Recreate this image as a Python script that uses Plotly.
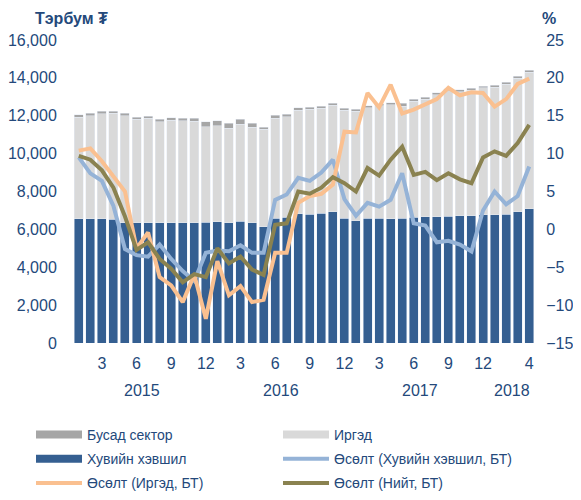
import plotly.graph_objects as go

years = [2015] * 12 + [2016] * 12 + [2017] * 12 + [2018] * 4
month_nums = list(range(1, 13)) * 3 + [1, 2, 3, 4]
months = [f"{y}-{m:02d}" for y, m in zip(years, month_nums)]

# Тэрбум ₮
private = [6550, 6550, 6560, 6540, 6350, 6350, 6350, 6350, 6350, 6350,
           6350, 6370, 6390, 6360, 6430, 6340, 6150, 6590, 6650, 6820,
           6790, 6850, 6920, 6600, 6460, 6600, 6600, 6550, 6600, 6640,
           6670, 6670, 6700, 6710, 6710, 6760, 6780, 6810, 6920, 7080]
households = [5370, 5460, 5550, 5590, 5660, 5460, 5510, 5330, 5420, 5380,
              5350, 5060, 5090, 4990, 5130, 5040, 5140, 5290, 5310, 5470,
              5560, 5540, 5630, 5680, 5780, 5820, 5930, 6020, 5910, 6130,
              6210, 6440, 6630, 6570, 6640, 6710, 6730, 6850, 7070, 7230]
other = [120, 120, 120, 120, 120, 120, 120, 130, 130, 150,
         170, 250, 260, 250, 250, 220, 110, 140, 120, 120,
         110, 110, 110, 110, 110, 110, 110, 110, 160, 100,
         100, 100, 100, 100, 100, 100, 100, 100, 100, 100]

# %, БТ
g_private = [9.5, 7.4, 6.4, 3.1, -2.6, -3.4, -3.6, -2.0, -3.9, -5.5,
             -6.8, -3.1, -2.8, -2.9, -2.1, -3.1, -3.1, 3.9, 4.6, 6.8,
             6.4, 7.5, 9.2, 4.0, 1.8, 3.5, 3.0, 3.9, 7.4, 0.8,
             0.5, -1.7, -1.5, -2.0, -2.9, 2.5, 5.0, 3.3, 4.4, 8.3]
g_households = [10.4, 10.7, 9.0, 7.1, 5.0, -2.5, -0.4, -6.3, -7.4, -9.6,
                -6.0, -11.8, -4.2, -8.7, -7.5, -9.6, -9.3, -3.1, -3.1, 3.5,
                4.4, 4.7, 5.9, 12.9, 12.8, 18.0, 16.1, 19.1, 15.3, 15.8,
                16.5, 17.2, 18.7, 17.7, 18.1, 18.0, 16.2, 17.2, 19.2, 19.9]
g_total = [9.7, 9.2, 7.8, 5.5, 1.7, -2.7, -1.7, -3.9, -5.2, -7.0,
           -5.9, -6.3, -2.5, -4.5, -3.6, -5.3, -6.0, 0.6, 0.8, 5.0,
           4.7, 5.5, 6.9, 6.1, 5.0, 8.1, 7.1, 9.2, 10.9, 7.2,
           7.6, 6.5, 7.4, 6.6, 6.1, 9.5, 10.3, 9.7, 11.4, 13.8]

tick_months = [m for m in months if m.endswith(("-03", "-06", "-09", "-12"))
               and not m.startswith("2018")] + ["2018-04"]
tick_text = [str(int(m[-2:])) for m in tick_months]
year_labels = ["2015", "2016", "2017", "2018"]
year_pos = [5.5, 17.5, 29.5, 37.5]

names = ["Бусад сектор", "Иргэд", "Хувийн хэвшил",
         "Өсөлт (Хувийн хэвшил, БТ)", "Өсөлт (Иргэд, БТ)", "Өсөлт (Нийт, БТ)"]

C_PRIV = "#355F91"
C_HH = "#D9D9D9"
C_OTH = "#A6A6A6"
C_GP = "#95B3D7"
C_GH = "#FAC090"
C_GT = "#8A8250"
TXT = "#24497B"
FONT = "Liberation Sans, Arial, DejaVu Sans, sans-serif"

# the page body has an 8px margin, so the figure is sized to fit inside the window
W, H = 565, 484

fig = go.Figure()
fig.add_bar(x=months, y=private, marker_color=C_PRIV, showlegend=False, name=names[2])
fig.add_bar(x=months, y=households, marker_color=C_HH, showlegend=False, name=names[1])
fig.add_bar(x=months, y=other, marker_color=C_OTH, showlegend=False, name=names[0])

fig.add_scatter(x=months, y=g_private, yaxis="y2", mode="lines",
                line=dict(color=C_GP, width=4), showlegend=False, name=names[3])
fig.add_scatter(x=months, y=g_households, yaxis="y2", mode="lines",
                line=dict(color=C_GH, width=4), showlegend=False, name=names[4])
fig.add_scatter(x=months, y=g_total, yaxis="y2", mode="lines",
                line=dict(color=C_GT, width=4), showlegend=False, name=names[5])

# legend proxies: two columns -> two legends
legend_styles = [(C_OTH, 8), (C_HH, 8), (C_PRIV, 8), (C_GP, 4), (C_GH, 4), (C_GT, 4)]
legend_ids = ["legend", "legend2", "legend", "legend2", "legend", "legend2"]
for k, (nm, (c, w), lg) in enumerate(zip(names, legend_styles, legend_ids)):
    fig.add_scatter(x=[None], y=[None], mode="lines", name=nm, legend=lg,
                    legendgroup=f"g{k}",
                    line=dict(color=c, width=w), showlegend=True)

for t, p in zip(year_labels, year_pos):
    fig.add_annotation(x=p, y=-0.158, xref="x", yref="paper", text=t,
                       showarrow=False, font=dict(size=16, color=TXT), yanchor="middle")

fig.add_annotation(x=-0.003, y=1.072, xref="paper", yref="paper", text="<b>Тэрбум ₮</b>",
                   showarrow=False, xanchor="center", yanchor="middle",
                   font=dict(size=16, color=TXT))
fig.add_annotation(x=1.03, y=1.07, xref="paper", yref="paper", text="<b>%</b>",
                   showarrow=False, xanchor="center", yanchor="middle",
                   font=dict(size=16, color=TXT))

leg_common = dict(orientation="v", yref="container", xref="container",
                  y=1 - 411 / H, yanchor="top", xanchor="left",
                  itemwidth=46, tracegroupgap=3,
                  font=dict(size=14, color=TXT), traceorder="grouped",
                  bgcolor="rgba(0,0,0,0)")

fig.update_layout(
    width=W, height=H,
    margin=dict(l=65, r=38, t=32, b=149, autoexpand=False),
    paper_bgcolor="white", plot_bgcolor="white",
    barmode="stack", bargap=0.22,
    font=dict(family=FONT, size=16, color=TXT),
    xaxis=dict(type="category", categoryorder="array", categoryarray=months,
               tickmode="array", tickvals=tick_months, ticktext=tick_text,
               showgrid=False, zeroline=False, showline=False,
               ticks="outside", ticklen=6, tickcolor="rgba(0,0,0,0)",
               tickfont=dict(size=16, color=TXT)),
    yaxis=dict(range=[0, 16000], dtick=2000, tickformat=",d",
               showgrid=False, zeroline=False, showline=False,
               ticks="outside", ticklen=12, tickcolor="rgba(0,0,0,0)",
               tickfont=dict(size=16, color=TXT)),
    yaxis2=dict(range=[-15, 25], dtick=5, overlaying="y", side="right",
                showgrid=False, zeroline=False, showline=False,
                ticks="outside", ticklen=7, tickcolor="rgba(0,0,0,0)",
                tickfont=dict(size=16, color=TXT)),
    legend=dict(x=23 / W, **leg_common),
    legend2=dict(x=270 / W, **leg_common),
)

fig.write_html("out.html")
